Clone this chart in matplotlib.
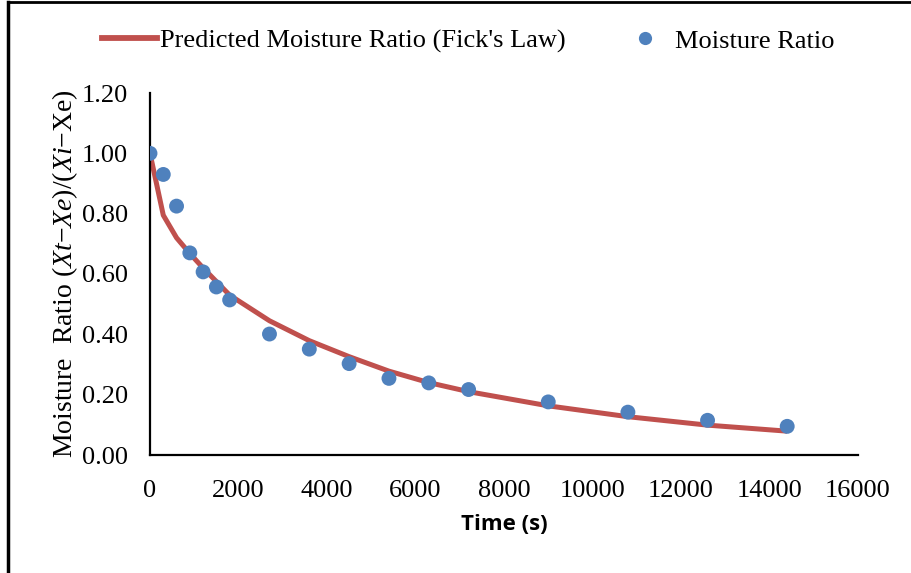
import numpy as np
import matplotlib
matplotlib.use("Agg")
import matplotlib.pyplot as plt
from matplotlib.lines import Line2D

# drying data
time_s = [0, 300, 600, 900, 1200, 1500, 1800, 2700, 3600, 4500, 5400, 6300, 7200, 9000, 10800, 12600, 14400]
mr_exp = [1.00, 0.93, 0.825, 0.67, 0.607, 0.557, 0.514, 0.401, 0.351, 0.303, 0.254, 0.239, 0.217, 0.176, 0.142, 0.115, 0.095]
mr_fick = [1.00, 0.795, 0.72, 0.668, 0.62, 0.575, 0.53, 0.445, 0.379, 0.326, 0.278, 0.240, 0.210, 0.163, 0.127, 0.099, 0.079]

x_ticks = [0, 2000, 4000, 6000, 8000, 10000, 12000, 14000, 16000]
y_ticks = [0.0, 0.2, 0.4, 0.6, 0.8, 1.0, 1.2]

red = '#C0504D'
blue = '#4F81BD'

plt.rcParams['font.family'] = ['Liberation Serif', 'DejaVu Serif']
plt.rcParams['mathtext.fontset'] = 'custom'
plt.rcParams['mathtext.rm'] = 'Liberation Serif'
plt.rcParams['mathtext.it'] = 'Liberation Serif:italic'


def make_plot():
    fig = plt.figure(figsize=(9.12, 5.73), dpi=100)
    ax = fig.add_axes([150/912, 118/573, 708/912, 362/573])

    ax.plot(time_s, mr_fick, color=red, lw=3.6, solid_capstyle='butt', zorder=2)
    ax.scatter(time_s, mr_exp, s=115, color=blue, edgecolors='none', zorder=3)

    ax.set_xlim(0, 16000)
    ax.set_ylim(0, 1.2)
    ax.set_xticks(x_ticks)
    ax.set_yticks(y_ticks)
    ax.set_yticklabels(['%.2f' % v for v in y_ticks])
    ax.tick_params(length=0, labelsize=19)
    ax.tick_params(axis='x', pad=18)
    ax.tick_params(axis='y', pad=16)
    for side in ['top', 'right']:
        ax.spines[side].set_visible(False)
    for side in ['left', 'bottom']:
        ax.spines[side].set_linewidth(1.6)

    ax.set_xlabel('Time (s)', fontfamily='Open Sans', fontweight='bold', fontsize=16, labelpad=9)
    ax.set_ylabel('Moisture  Ratio $(Xt$\u2212$Xe)/(Xi$\u2212Xe)', fontsize=20, labelpad=1)

    handles = [Line2D([], [], color=red, lw=4.2),
               Line2D([], [], color=blue, marker='o', ls='none', markersize=9.5, markeredgewidth=0)]
    fig.legend(handles, ["Predicted Moisture Ratio (Fick's Law)", 'Moisture Ratio'],
               loc='center left', bbox_to_anchor=(102/912, 1 - 41/573), ncol=2, frameon=False,
               fontsize=19, handlelength=2.1, handletextpad=0.1, columnspacing=1.95,
               borderaxespad=0, borderpad=0)

    # frame lines at top and left of the picture
    fig.add_artist(Line2D([8/912, 1], [1 - 2/573, 1 - 2/573], color='black', lw=2, transform=fig.transFigure))
    fig.add_artist(Line2D([8/912, 8/912], [0, 1 - 2/573], color='black', lw=2.5, transform=fig.transFigure))

    fig.savefig('out.png', dpi=100)


if __name__ == "__main__":
    make_plot()
